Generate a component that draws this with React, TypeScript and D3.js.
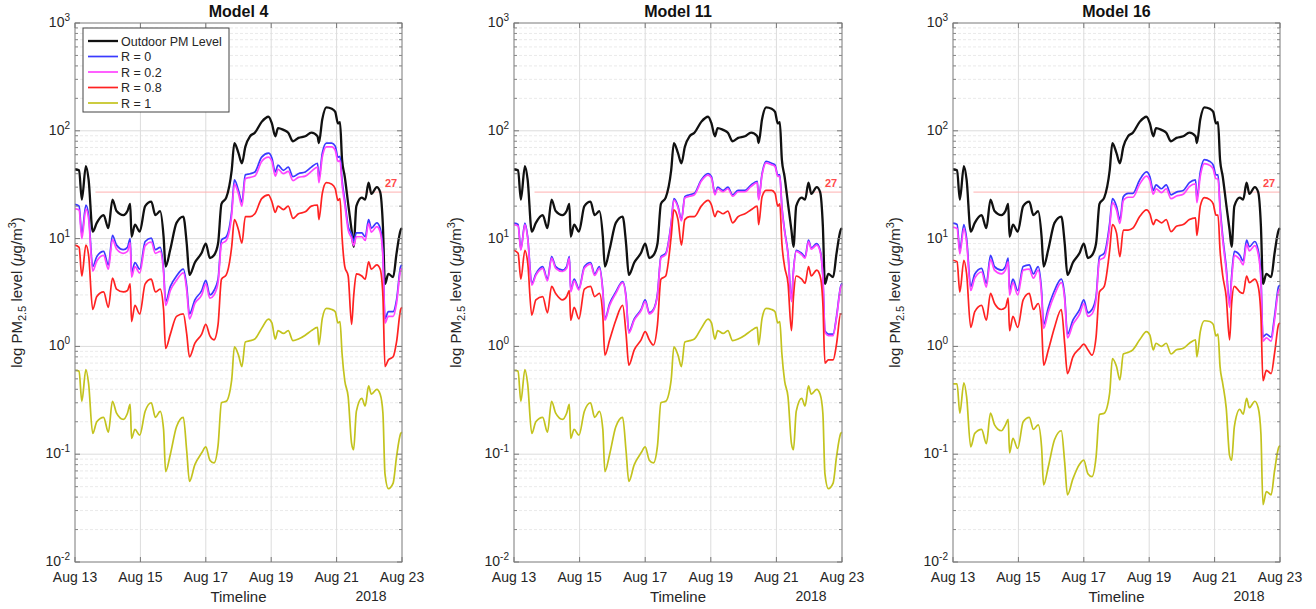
import React from 'react';
import * as d3 from 'd3';

// time axis: hours after Aug 13 2018 00:00
const start = Date.UTC(2018, 7, 13);
const hours = [
  0, 3, 5, 8, 10, 13, 16, 21, 24.5, 27.5,
  30.5, 35.5, 38.5, 40.5, 41.5, 44, 47.5, 51.5, 56, 59,
  62.5, 65, 66.5, 70, 74.5, 79.5, 82, 84, 88, 93,
  96, 99, 102, 105, 107.5, 111, 115, 117, 120, 122.5,
  125, 128.5, 132, 137, 142, 144.5, 147, 149, 153, 156.5,
  160, 164, 169, 173.5, 178, 179, 181.5, 184.5, 188.5, 191,
  193, 194.5, 196, 198, 200.5, 203, 204.5, 206.5, 210.5, 213,
  215.5, 217.5, 221.5, 224, 226, 227.5, 230, 233.5, 236, 239,
  240,
];

const outdoor = [
  44, 43, 23, 47, 35, 11.6, 14, 16.5, 12.5, 23,
  18, 16.5, 18, 21, 10.4, 13.5, 11.6, 20, 22, 16.5,
  18, 10.5, 5.5, 8, 14, 16, 9, 4.6, 6, 7.4,
  9, 6.6, 7, 9, 21, 24, 43, 77, 62, 50,
  71, 89, 96, 121, 135, 117, 89, 106, 102, 96,
  80, 86, 89, 96, 89, 77, 128, 165, 160, 150,
  117, 120, 54, 37.5, 21, 12, 8.4, 20, 24, 23,
  33, 26, 30, 27, 13, 3.8, 4.7, 4.4, 7.3, 12,
  12.5,
];

// Model 4
const m4R0 = [
  20.8, 20, 11, 20.5, 16.5, 5.5, 6.8, 7.6, 5.7, 10.7,
  8.7, 7.9, 8.3, 10, 4.8, 6, 5.2, 9.4, 10.1, 7.9,
  8.3, 5.2, 2.6, 3.6, 4.5, 5.2, 3.6, 2, 2.7, 3.3,
  4.1, 3, 3.3, 4.2, 9.7, 10.4, 18, 35, 28, 21.8,
  39, 40, 41.5, 57, 62, 56, 41.5, 48, 43, 46,
  37.5, 40, 41.5, 46, 50, 36, 62, 77, 77, 72,
  57, 58, 35, 22.6, 13, 11, 9.4, 11.3, 11.3, 10.4,
  15, 12.5, 14, 12.5, 7.3, 1.8, 2.1, 2.1, 2.7, 5.5,
  5.7,
];
const m4R02 = [
  19, 18.4, 10, 18.8, 15.2, 5, 6.2, 7, 5.2, 9.8,
  8, 7.3, 7.6, 9.2, 4.4, 5.5, 4.8, 8.6, 9.3, 7.3,
  7.6, 4.8, 2.4, 3.3, 4.1, 4.8, 3.3, 1.8, 2.5, 3,
  3.8, 2.8, 3, 3.9, 8.9, 9.6, 16.5, 32, 26, 20,
  36, 37, 38, 52, 57, 52, 38, 44, 40, 42,
  34.5, 37, 38, 42, 46, 33, 57, 71, 71, 66,
  52, 53, 32, 20.8, 12, 10.1, 8.6, 10.4, 10.4, 9.6,
  13.8, 11.5, 12.9, 11.5, 6.7, 1.65, 1.9, 1.9, 2.5, 5.1,
  5.3,
];
const m4R08 = [
  8.7, 8.3, 4.5, 8.7, 7, 2.2, 2.9, 3.2, 2.3, 4.3,
  3.4, 3.2, 3.3, 3.8, 1.7, 2.4, 2, 3.8, 4.2, 3.2,
  3.4, 2.2, 0.96, 1.3, 1.9, 2, 1.3, 0.8, 1.07, 1.3,
  1.6, 1.25, 1.15, 1.6, 4.2, 4.6, 8.4, 15, 12, 9.1,
  16, 16, 17, 23.5, 25.5, 22, 17.5, 20, 18.6, 20,
  15.4, 17, 17.7, 20, 20.5, 15, 26.3, 33, 32, 29,
  22.6, 23.5, 10.4, 5.5, 4.5, 1.6, 2.9, 4.7, 4.5, 4.2,
  6.1, 5.2, 5.7, 5.2, 2.9, 0.65, 0.75, 0.8, 1.1, 2.2,
  2.3,
];
// R = 1 is the same for Model 4 and Model 11
const m4R1 = [
  0.6, 0.59, 0.31, 0.61, 0.45, 0.156, 0.2, 0.22, 0.16, 0.31,
  0.24, 0.21, 0.24, 0.29, 0.14, 0.17, 0.15, 0.25, 0.3, 0.22,
  0.25, 0.17, 0.069, 0.1, 0.18, 0.22, 0.107, 0.056, 0.08, 0.103,
  0.117, 0.088, 0.083, 0.12, 0.3, 0.31, 0.49, 0.99, 0.83, 0.65,
  1.1, 1.13, 1.17, 1.47, 1.79, 1.65, 1.17, 1.4, 1.32, 1.4,
  1.13, 1.17, 1.27, 1.4, 1.5, 1.03, 1.82, 2.25, 2.2, 2.1,
  1.65, 1.7, 0.86, 0.48, 0.34, 0.126, 0.11, 0.25, 0.33, 0.28,
  0.43, 0.36, 0.4, 0.36, 0.24, 0.066, 0.048, 0.054, 0.095, 0.155,
  0.16,
];

// Model 11
const m11R0 = [
  13.9, 13.5, 8, 13.9, 10.4, 3.85, 4.7, 5.5, 4.2, 6.8,
  5.5, 5.1, 5.5, 6.8, 3.3, 4.2, 3.45, 5.5, 6, 4.7,
  5.5, 3.3, 1.8, 2.5, 3.2, 4, 2.9, 1.37, 1.8, 2.2,
  2.7, 2.05, 2.2, 3.1, 6.8, 7.3, 13.9, 23.5, 20, 15,
  24.5, 25.5, 26.3, 35, 40, 37.5, 26.3, 30, 28, 30,
  25.5, 28, 28, 31.5, 34, 23.5, 40, 52, 50, 48,
  39, 39, 20, 12, 7.3, 2.7, 5.1, 7.8, 7.3, 6.8,
  9.7, 8.2, 9, 7.8, 4.5, 1.4, 1.3, 1.3, 1.9, 3.6,
  3.85,
];
const m11R02 = [
  13.5, 13.1, 7.8, 13.5, 10.1, 3.7, 4.55, 5.3, 4.05, 6.6,
  5.3, 4.95, 5.3, 6.6, 3.2, 4.05, 3.35, 5.3, 5.8, 4.55,
  5.3, 3.2, 1.75, 2.4, 3.1, 3.9, 2.8, 1.33, 1.75, 2.15,
  2.6, 2, 2.15, 3, 6.6, 7.1, 13.5, 22.8, 19.4, 14.6,
  23.8, 24.7, 25.5, 34, 38.8, 36.4, 25.5, 29, 27.2, 29,
  24.7, 27.2, 27.2, 30.5, 33, 22.8, 38.8, 50.5, 48.5, 46.5,
  37.8, 37.8, 19.4, 11.6, 7.1, 2.6, 4.95, 7.6, 7.1, 6.6,
  9.4, 8, 8.7, 7.6, 4.4, 1.36, 1.26, 1.26, 1.84, 3.5,
  3.75,
];
const m11R08 = [
  7.8, 7.3, 4.2, 7.8, 6, 1.95, 2.7, 2.9, 2.05, 3.6,
  3.1, 2.7, 2.9, 3.3, 1.75, 2.3, 1.8, 3.4, 3.6, 2.9,
  3.1, 1.9, 0.83, 1.15, 1.75, 2.4, 1.3, 0.67, 0.93, 1.15,
  1.37, 1.15, 1.03, 1.6, 4.2, 4.5, 10.4, 18.5, 15, 8.7,
  15, 16, 16, 20, 22.6, 20.5, 16, 18, 17, 18,
  14, 16, 17, 18.5, 20, 13.5, 24.5, 28, 28, 26.3,
  20, 21, 9.1, 5.5, 3.85, 1.4, 2.9, 4.5, 4.2, 3.85,
  5.5, 4.5, 5.1, 4.5, 2.5, 0.7, 0.75, 0.75, 1.05, 2,
  2,
];

// Model 16
const m16R0 = [
  13.9, 13.5, 7.8, 13.5, 10, 3.6, 4.7, 5.3, 3.85, 7,
  5.5, 5.1, 5.5, 6.6, 3.3, 4.2, 3.3, 5.5, 5.7, 4.7,
  5.5, 3.3, 1.6, 2.3, 3.3, 4.2, 2.9, 1.3, 1.75, 2.2,
  2.7, 2.05, 2.2, 2.9, 6.8, 7.3, 13.9, 23.5, 20, 15,
  24.5, 26.3, 26.3, 35, 41.5, 37.5, 28, 31.5, 29, 31.5,
  25.5, 27, 28, 33, 35, 23.5, 41.5, 54, 52, 48,
  39, 39, 20, 10.4, 5.5, 2.5, 4.5, 7.6, 7, 6.2,
  9.7, 8.4, 9.4, 7.8, 4.5, 1.22, 1.3, 1.22, 1.9, 3.6,
  3.7,
];
const m16R02 = [
  12.8, 12.4, 7.2, 12.4, 9.2, 3.3, 4.3, 4.9, 3.55, 6.4,
  5.1, 4.7, 5.1, 6.1, 3, 3.9, 3, 5.1, 5.2, 4.3,
  5.1, 3, 1.47, 2.1, 3, 3.9, 2.7, 1.2, 1.6, 2,
  2.5, 1.9, 2, 2.7, 6.3, 6.7, 12.8, 21.6, 18.4, 13.8,
  22.5, 24.2, 24.2, 32, 38, 34.5, 25.8, 29, 26.7, 29,
  23.5, 24.8, 25.8, 30.4, 32.2, 21.6, 38, 49.7, 47.8, 44,
  35.9, 35.9, 18.4, 9.6, 5.1, 2.3, 4.1, 7, 6.4, 5.7,
  8.9, 7.7, 8.6, 7.2, 4.1, 1.12, 1.2, 1.12, 1.75, 3.3,
  3.4,
];
const m16R08 = [
  6.3, 6.1, 3.2, 6.3, 4.7, 1.5, 2.1, 2.4, 1.75, 3.1,
  2.5, 2.2, 2.3, 2.8, 1.4, 1.9, 1.5, 2.7, 3.1, 2.2,
  2.5, 1.6, 0.67, 0.93, 1.5, 2.2, 1.05, 0.56, 0.8, 0.96,
  1.05, 0.93, 0.83, 1.22, 3.2, 3.6, 7.8, 13.5, 11.3, 6.8,
  12, 12, 12.5, 16, 18.5, 17, 13.5, 15, 14, 15,
  11.6, 13, 13.5, 15, 15.6, 10.7, 20, 24, 23, 21,
  16.5, 16.5, 7.8, 4.5, 2.9, 1.15, 2.5, 3.6, 3.2, 3.1,
  4.5, 3.9, 4.2, 3.6, 1.9, 0.48, 0.6, 0.56, 0.86, 1.6,
  1.65,
];
const m16R1 = [
  0.45, 0.45, 0.24, 0.46, 0.34, 0.117, 0.156, 0.17, 0.125, 0.24,
  0.187, 0.165, 0.187, 0.21, 0.103, 0.14, 0.113, 0.2, 0.22, 0.17,
  0.187, 0.117, 0.052, 0.077, 0.136, 0.165, 0.083, 0.042, 0.059, 0.081,
  0.088, 0.066, 0.062, 0.094, 0.233, 0.24, 0.37, 0.77, 0.65, 0.49,
  0.85, 0.88, 0.93, 1.15, 1.37, 1.27, 0.93, 1.07, 1, 1.07,
  0.85, 0.93, 0.96, 1.07, 1.15, 0.8, 1.37, 1.73, 1.7, 1.6,
  1.25, 1.3, 0.65, 0.45, 0.27, 0.097, 0.088, 0.18, 0.26, 0.235,
  0.33, 0.27, 0.31, 0.27, 0.155, 0.034, 0.045, 0.042, 0.07, 0.115,
  0.12,
];

const seriesNames = ['Outdoor PM Level', 'R = 0', 'R = 0.2', 'R = 0.8', 'R = 1'];
const seriesColors = ['#111111', '#3a3aff', '#ff44ff', '#ff2222', '#c3c31e'];
const seriesWidths = [2.3, 1.7, 1.7, 1.7, 1.7];
const threshold = 27;
const thresholdStartHour = 15;

const panels = [
  { title: 'Model 4', left: 75, right: 402, series: [outdoor, m4R0, m4R02, m4R08, m4R1], legend: true },
  { title: 'Model 11', left: 514, right: 842, series: [outdoor, m11R0, m11R02, m11R08, m4R1], legend: false },
  { title: 'Model 16', left: 953, right: 1280, series: [outdoor, m16R0, m16R02, m16R08, m16R1], legend: false },
];

const top = 23;
const bottom = 562;
const font = 'Liberation Sans, Arial, Helvetica, sans-serif';
const textColor = '#262626';
const toDate = (h: number) => new Date(start + h * 3600e3);

function Panel({ p }: { p: typeof panels[0] }) {
  const x = d3.scaleUtc().domain([toDate(0), toDate(240)]).range([p.left, p.right]);
  const y = d3.scaleLog().domain([1e-2, 1e3]).range([bottom, top]);
  const line = d3.line<[number, number]>()
    .x(d => x(toDate(d[0])))
    .y(d => y(d[1]))
    .curve(d3.curveMonotoneX);

  const xTicks = d3.utcDay.every(2)!.range(toDate(0), toDate(241));
  const fmt = d3.utcFormat('%b %d');
  const exps = [-2, -1, 0, 1, 2, 3];
  const minor: number[] = [];
  exps.slice(0, -1).forEach(e => {
    for (let k = 2; k <= 9; k++) minor.push(k * Math.pow(10, e));
  });
  const cx = (p.left + p.right) / 2;
  const cy = (top + bottom) / 2;

  return (
    <g fontFamily={font}>
      {/* grid */}
      {minor.map((v, i) => (
        <line key={'mg' + i} x1={p.left} x2={p.right} y1={y(v)} y2={y(v)}
          stroke="#e4e4e4" strokeWidth={0.8} strokeDasharray="3,2" />
      ))}
      {exps.map(e => (
        <line key={'g' + e} x1={p.left} x2={p.right} y1={y(Math.pow(10, e))} y2={y(Math.pow(10, e))}
          stroke="#dcdcdc" strokeWidth={1} />
      ))}
      {xTicks.map((d, i) => (
        <line key={'vg' + i} x1={x(d)} x2={x(d)} y1={top} y2={bottom} stroke="#dcdcdc" strokeWidth={1} />
      ))}

      {/* threshold */}
      <line x1={x(toDate(thresholdStartHour))} x2={p.right} y1={y(threshold)} y2={y(threshold)}
        stroke="#ffb0b0" strokeWidth={1} />
      <text x={p.right - 17} y={y(threshold) - 5} fontSize={11} fontWeight="bold" fill="#ff4a4a">{threshold}</text>

      {/* series */}
      {p.series.map((vals, i) => {
        const pts = hours.map((h, j) => [h, vals[j]] as [number, number]).filter(d => d[1] != null);
        return (
          <path key={'s' + i} d={line(pts) || ''} fill="none" stroke={seriesColors[i]}
            strokeWidth={seriesWidths[i]} strokeLinejoin="round" />
        );
      })}

      {/* box and ticks */}
      <rect x={p.left} y={top} width={p.right - p.left} height={bottom - top} fill="none" stroke="#8a8a8a" strokeWidth={1} />
      {exps.map(e => (
        <g key={'t' + e}>
          <line x1={p.left} x2={p.left + 5} y1={y(Math.pow(10, e))} y2={y(Math.pow(10, e))} stroke="#777" />
          <line x1={p.right} x2={p.right - 5} y1={y(Math.pow(10, e))} y2={y(Math.pow(10, e))} stroke="#777" />
        </g>
      ))}
      {minor.map((v, i) => (
        <g key={'mt' + i}>
          <line x1={p.left} x2={p.left + 3} y1={y(v)} y2={y(v)} stroke="#888" />
          <line x1={p.right} x2={p.right - 3} y1={y(v)} y2={y(v)} stroke="#888" />
        </g>
      ))}
      {xTicks.map((d, i) => (
        <g key={'xt' + i}>
          <line x1={x(d)} x2={x(d)} y1={bottom} y2={bottom - 5} stroke="#777" />
          <line x1={x(d)} x2={x(d)} y1={top} y2={top + 5} stroke="#777" />
        </g>
      ))}

      {/* y tick labels */}
      {exps.map(e => (
        <text key={'yl' + e} x={p.left - 5} y={y(Math.pow(10, e)) + 4} textAnchor="end" fontSize={14} fill={textColor}>
          10<tspan dy={-6} fontSize={10}>{e}</tspan>
        </text>
      ))}
      {/* x tick labels */}
      {xTicks.map((d, i) => (
        <text key={'xl' + i} x={x(d)} y={bottom + 20} textAnchor="middle" fontSize={14} fill={textColor}>
          {fmt(d)}
        </text>
      ))}
      <text x={cx} y={bottom + 40} textAnchor="middle" fontSize={15} fill={textColor}>Timeline</text>
      <text x={p.right - 31} y={bottom + 39} textAnchor="middle" fontSize={14} fill={textColor}>2018</text>

      {/* y label */}
      <text transform={`translate(${p.left - 53},${cy}) rotate(-90)`} textAnchor="middle" fontSize={15} fill={textColor}>
        log PM<tspan dy={4} fontSize={11}>2.5</tspan><tspan dy={-4}> level (</tspan>
        <tspan fontStyle="italic">μ</tspan>g/m<tspan dy={-6} fontSize={11}>3</tspan><tspan dy={6}>)</tspan>
      </text>

      {/* title */}
      <text x={cx} y={17} textAnchor="middle" fontSize={16} fontWeight="bold" fill="#111">{p.title}</text>

      {/* legend */}
      {p.legend && (
        <g>
          <rect x={p.left + 8} y={28} width={146} height={84} fill="white" stroke="#444" strokeWidth={1} />
          {seriesNames.map((n, i) => (
            <g key={'lg' + i}>
              <line x1={p.left + 13} x2={p.left + 43} y1={41 + i * 15.5} y2={41 + i * 15.5}
                stroke={seriesColors[i]} strokeWidth={seriesWidths[i]} />
              <text x={p.left + 46} y={41 + i * 15.5 + 4.5} fontSize={12.5} fill={textColor}>{n}</text>
            </g>
          ))}
        </g>
      )}
    </g>
  );
}

export default function App() {
  return (
    <svg width={1316} height={609} style={{ position: 'absolute', left: 0, top: 0, background: 'white' }}>
      {panels.map(p => <Panel key={p.title} p={p} />)}
    </svg>
  );
}
